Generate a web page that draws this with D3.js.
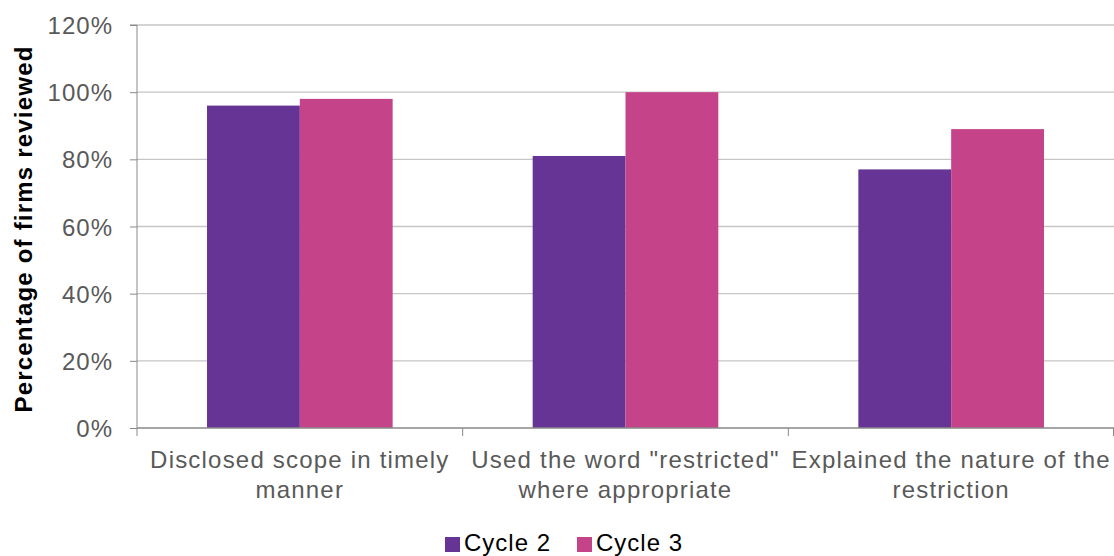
<!DOCTYPE html>
<html><head><meta charset="utf-8">
<script src="https://cdn.jsdelivr.net/npm/d3@7"></script>
<style>body{margin:0;background:#fff}svg{display:block;font-family:"Liberation Sans",Arial,sans-serif}</style>
</head><body><svg id="c" width="1114" height="556"></svg>
<script>
const categories = [["Disclosed scope in timely", "manner"], ["Used the word \"restricted\"", "where appropriate"], ["Explained the nature of the", "restriction"]];
const seriesNames = ["Cycle 2", "Cycle 3"];
const cycle2 = [96, 81, 77];
const cycle3 = [98, 100, 89];
const yTicks = [0, 20, 40, 60, 80, 100, 120];
const colors = ["#663494", "#C54388"];

const svg = d3.select("#c");
const m = {l: 137, r: 1114, t: 25, b: 428};
const x0 = d3.scaleBand().domain(d3.range(categories.length)).range([m.l, m.r]).paddingInner(0.43).paddingOuter(0.215);
const x1 = d3.scaleBand().domain(d3.range(seriesNames.length)).range([0, x0.bandwidth()]);
const xc = d3.scaleBand().domain(d3.range(categories.length)).range([m.l, m.r]);
const y = d3.scaleLinear().domain([0, 120]).range([m.b, m.t]);

// gridlines
svg.append("g").selectAll("line").data(yTicks.filter(d => d > 0)).join("line")
  .attr("x1", m.l).attr("x2", m.r).attr("y1", d => y(d)).attr("y2", d => y(d))
  .attr("stroke", "#c6c6c6").attr("stroke-width", 1.3);

// bars
const series = [cycle2, cycle3];
series.forEach((vals, si) => {
  svg.append("g").selectAll("rect").data(vals).join("rect")
    .attr("x", (d, i) => x0(i) + x1(si))
    .attr("y", d => y(d))
    .attr("width", x1.bandwidth())
    .attr("height", d => y(0) - y(d))
    .attr("fill", colors[si]);
});

// y axis
const yAxis = svg.append("g").attr("transform", `translate(${m.l},0)`)
  .call(d3.axisLeft(y).tickValues(yTicks).tickFormat(d => d + "%").tickSize(7).tickPadding(17));
yAxis.select(".domain").attr("stroke", "#898989").attr("d", `M-7,${m.t}H0V${m.b}`);
yAxis.selectAll(".tick line").attr("stroke", "#898989");
yAxis.selectAll("text").attr("fill", "#595959").style("font-size", "24px").style("letter-spacing", "1px").attr("dy", "0.36em");

// x axis
const xg = svg.append("g");
xg.append("line").attr("x1", m.l).attr("x2", m.r).attr("y1", m.b).attr("y2", m.b).attr("stroke", "#898989").attr("stroke-width", 1.3);
const bounds = d3.range(categories.length + 1).map(i => i < categories.length ? xc(i) : m.r - 0.5);
xg.selectAll(".xt").data(bounds).join("line").attr("class", "xt")
  .attr("x1", d => d).attr("x2", d => d).attr("y1", m.b).attr("y2", m.b + 8).attr("stroke", "#898989");
categories.forEach((lines, i) => {
  const cx = xc(i) + xc.bandwidth() / 2;
  const t = xg.append("text").attr("x", cx).attr("y", 468)
    .attr("text-anchor", "middle").attr("fill", "#595959").style("font-size", "24px").style("letter-spacing", "1.2px");
  lines.forEach((ln, j) => t.append("tspan").attr("x", cx).attr("dy", j ? 30 : 0).text(ln));
});

// y title
svg.append("text").attr("transform", `translate(32,229) rotate(-90)`)
  .attr("text-anchor", "middle").style("font-size", "24px").style("font-weight", "bold").style("letter-spacing", "1.2px").attr("fill", "#000")
  .text("Percentage of firms reviewed");

// legend
const lg = svg.append("g");
const lx = [445, 577];
seriesNames.forEach((s, i) => {
  lg.append("rect").attr("x", lx[i]).attr("y", 537).attr("width", 15).attr("height", 15).attr("fill", colors[i]);
  lg.append("text").attr("x", lx[i] + 19).attr("y", 551).style("font-size", "24px").style("letter-spacing", "1px").attr("fill", "#000").text(s);
});
</script></body></html>
